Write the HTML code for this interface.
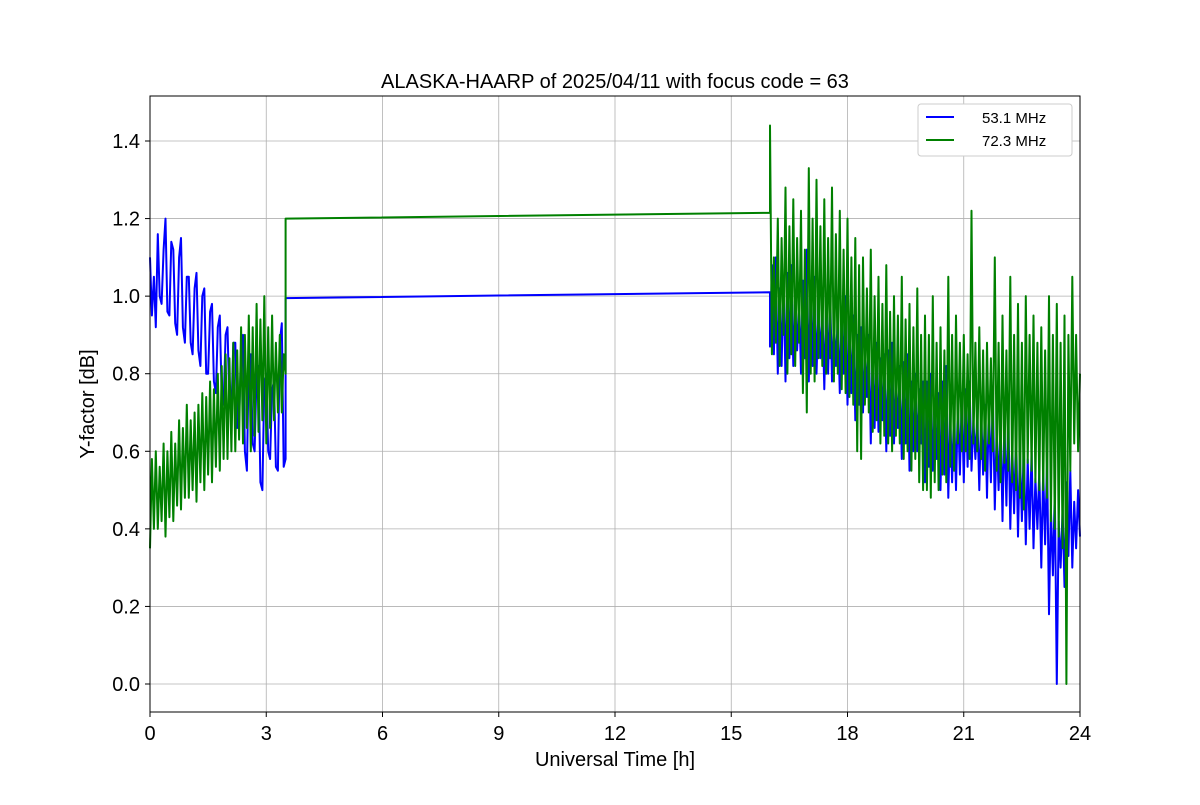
<!DOCTYPE html>
<html><head><meta charset="utf-8"><style>
body{margin:0;background:#fff;}
svg text{font-family:"Liberation Sans","DejaVu Sans",sans-serif;}
</style></head><body>
<svg id="chart" width="1200" height="800">
<rect width="1200" height="800" fill="#fff"/>
<g id="grid"></g>
<g id="series"></g>
<rect x="150" y="96" width="930" height="616" fill="none" stroke="#000" stroke-width="1"/>
<g id="ticks"></g>
<text x="615" y="88" text-anchor="middle" font-size="20">ALASKA-HAARP of 2025/04/11 with focus code = 63</text>
<text x="615" y="766" text-anchor="middle" font-size="20">Universal Time [h]</text>
<text x="0" y="0" transform="translate(94,404) rotate(-90)" text-anchor="middle" font-size="20">Y-factor [dB]</text>
<g>
<rect x="918" y="104" width="154" height="52" rx="3" fill="#fff" stroke="#ccc"/>
<line x1="926" y1="117" x2="954" y2="117" stroke="blue" stroke-width="2"/>
<text x="982" y="123" font-size="15">53.1 MHz</text>
<line x1="926" y1="140" x2="954" y2="140" stroke="green" stroke-width="2"/>
<text x="982" y="146" font-size="15">72.3 MHz</text>
</g>
</svg>
<script>
const xTicks=[0,3,6,9,12,15,18,21,24];
const yTicks=[0.0,0.2,0.4,0.6,0.8,1.0,1.2,1.4];
const seg1Start=0, seg2Start=16, step=0.05;
const blueSeg1=[1.10,0.95,1.05,0.92,1.16,1.00,0.98,1.12,1.20,0.96,0.95,1.14,1.12,0.93,0.90,1.10,1.15,0.92,0.88,1.05,
1.05,0.88,0.85,1.02,1.06,0.86,0.82,1.00,1.02,0.80,0.80,0.96,0.98,0.78,0.75,0.92,0.95,0.74,0.72,0.90,
0.92,0.72,0.70,0.88,0.88,0.66,0.68,0.86,0.90,0.60,0.55,0.84,0.85,0.62,0.60,0.80,0.82,0.52,0.50,0.78,
0.80,0.60,0.58,0.76,0.78,0.56,0.55,0.88,0.93,0.56,0.58];
const blueGap=[[3.5,0.995],[16,1.01]];
const blueSeg2=[0.87,1.08,0.85,1.10,0.80,1.02,0.82,1.05,0.78,1.06,0.84,1.08,0.82,0.98,0.86,1.00,0.80,1.04,0.84,1.12,
0.78,1.02,0.82,1.05,0.80,0.96,0.84,0.98,0.76,0.99,0.80,1.02,0.78,0.94,0.82,0.95,0.75,0.97,0.80,1.00,
0.72,0.93,0.75,0.95,0.68,0.90,0.72,0.92,0.70,0.88,0.74,0.90,0.62,0.86,0.66,0.88,0.65,0.84,0.68,0.85,
0.60,0.86,0.64,0.88,0.62,0.80,0.66,0.82,0.58,0.83,0.62,0.85,0.55,0.78,0.60,0.80,0.60,0.76,0.62,0.78,
0.52,0.78,0.56,0.80,0.55,0.72,0.58,0.75,0.50,0.78,0.54,0.82,0.48,0.70,0.52,0.72,0.50,0.73,0.54,0.75,
0.52,0.76,0.56,0.78,0.55,0.68,0.58,0.70,0.50,0.70,0.54,0.72,0.48,0.73,0.52,0.75,0.45,0.66,0.50,0.68,
0.42,0.68,0.46,0.70,0.40,0.62,0.44,0.65,0.38,0.60,0.42,0.62,0.36,0.58,0.40,0.60,0.35,0.53,0.40,0.55,
0.30,0.55,0.36,0.58,0.18,0.45,0.28,0.50,0.00,0.42,0.30,0.45,0.25,0.52,0.33,0.55,0.30,0.47,0.35,0.50,
0.38];
const greenSeg1=[0.35,0.58,0.40,0.60,0.40,0.56,0.42,0.62,0.38,0.60,0.43,0.65,0.42,0.62,0.46,0.68,0.45,0.66,0.48,0.72,
0.48,0.68,0.50,0.70,0.47,0.72,0.52,0.75,0.50,0.74,0.54,0.78,0.52,0.76,0.56,0.80,0.55,0.82,0.58,0.85,
0.58,0.84,0.60,0.88,0.60,0.86,0.63,0.92,0.62,0.90,0.66,0.95,0.60,0.92,0.64,0.98,0.65,0.94,0.68,1.00,
0.62,0.92,0.66,0.95,0.68,0.88,0.70,0.90,0.70,0.85,0.80];
const greenGap=[[3.5,1.20],[16,1.215]];
const greenSeg2=[1.44,0.85,1.10,0.88,1.20,0.82,1.15,0.90,1.28,0.80,1.18,0.85,1.25,0.82,1.15,0.88,1.22,0.75,1.12,0.70,
1.33,0.80,1.20,0.78,1.30,0.84,1.18,0.82,1.25,0.80,1.15,0.84,1.28,0.78,1.16,0.80,1.22,0.76,1.12,0.75,
1.20,0.74,1.10,0.72,1.15,0.60,1.08,0.58,1.10,0.72,1.02,0.70,1.12,0.65,1.00,0.68,1.05,0.62,0.98,0.64,
1.08,0.62,0.96,0.60,1.00,0.64,0.95,0.62,1.05,0.58,0.94,0.60,0.98,0.55,0.92,0.58,1.02,0.52,0.90,0.50,
0.95,0.50,0.90,0.48,1.00,0.52,0.88,0.50,0.92,0.54,0.86,0.52,1.05,0.56,0.90,0.55,0.95,0.62,0.88,0.60,
0.90,0.60,0.85,0.58,1.22,0.62,0.88,0.60,0.92,0.58,0.86,0.55,0.88,0.62,0.84,0.60,1.10,0.55,0.88,0.52,
0.95,0.57,0.86,0.55,1.05,0.52,0.90,0.50,0.98,0.48,0.88,0.45,1.00,0.57,0.90,0.55,0.95,0.52,0.88,0.50,
0.92,0.50,0.86,0.48,1.00,0.42,0.90,0.40,0.98,0.38,0.88,0.35,0.95,0.00,0.90,0.55,1.05,0.62,0.90,0.60,
0.80];

const X=t=>150+t*(930/24);
const Y=v=>684-v*(543/1.4);
const NS='http://www.w3.org/2000/svg';
const grid=document.getElementById('grid'),ticks=document.getElementById('ticks'),series=document.getElementById('series');
function mk(tag,attrs,parent){const e=document.createElementNS(NS,tag);for(const k in attrs)e.setAttribute(k,attrs[k]);parent.appendChild(e);return e;}
xTicks.forEach(t=>{
 const g=mk('line',{x1:X(t),x2:X(t),y1:96,y2:712,stroke:'#b0b0b0','stroke-width':0.8},grid);
 
 
 const tk=mk('line',{x1:X(t),x2:X(t),y1:712,y2:717,stroke:'#000'},ticks);
 
 
 const tx=mk('text',{x:X(t),y:740,'text-anchor':'middle','font-size':20},ticks);
 tx.textContent=t;
 
 
});
yTicks.forEach(v=>{
 const g=mk('line',{x1:150,x2:1080,y1:Y(v),y2:Y(v),stroke:'#b0b0b0','stroke-width':0.8},grid);
 
 
 const tk=mk('line',{x1:145,x2:150,y1:Y(v),y2:Y(v),stroke:'#000'},ticks);
 
 
 const tx=mk('text',{x:140,y:Y(v)+7,'text-anchor':'end','font-size':20},ticks);
 tx.textContent=v.toFixed(1);
 
 
});
function build(s1,gap,s2){
 const pts=[];
 s1.forEach((v,i)=>pts.push([seg1Start+i*step,v]));
 gap.forEach(p=>pts.push(p));
 s2.forEach((v,i)=>pts.push([seg2Start+i*step,v]));
 return pts.map(p=>X(p[0]).toFixed(1)+','+Y(p[1]).toFixed(1)).join(' ');
}
const bl=mk('polyline',{points:build(blueSeg1,blueGap,blueSeg2),fill:'none',stroke:'blue','stroke-width':2,'stroke-linejoin':'round'},series);


const gl=mk('polyline',{points:build(greenSeg1,greenGap,greenSeg2),fill:'none',stroke:'green','stroke-width':2,'stroke-linejoin':'round'},series);


</script>
</body></html>
